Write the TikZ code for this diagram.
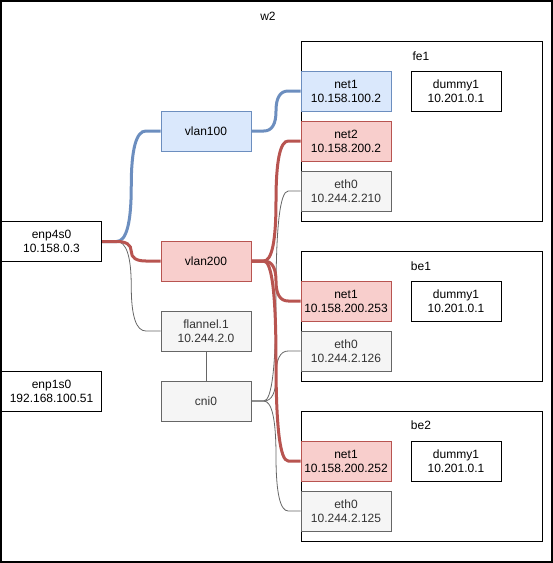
\documentclass[tikz,border=0pt]{standalone}
\usepackage{fontspec}
\setmainfont{Liberation Sans}
\usetikzlibrary{calc}
\definecolor{bluefill}{HTML}{DAE8FC}
\definecolor{bluedraw}{HTML}{6C8EBF}
\definecolor{redfill}{HTML}{F8CECC}
\definecolor{reddraw}{HTML}{B85450}
\definecolor{grayfill}{HTML}{F5F5F5}
\definecolor{graydraw}{HTML}{666666}
\definecolor{graytext}{HTML}{333333}
\tikzset{
  box/.style={draw=black, line width=1pt, minimum width=90pt, minimum height=40pt, inner sep=0pt, align=center, font=\fontsize{12}{14}\selectfont},
  wide/.style={minimum width=100pt},
  bluebox/.style={box, fill=bluefill, draw=bluedraw},
  redbox/.style={box, fill=redfill, draw=reddraw},
  graybox/.style={box, fill=grayfill, draw=graydraw, text=graytext},
  container/.style={draw=black, line width=1pt, inner sep=0pt, minimum width=241pt},
  lbl/.style={inner sep=0pt, font=\fontsize{12}{14}\selectfont},
  dio/.style={to path={let \p1=(\tikztostart), \p2=(\tikztotarget),
     \n1={(\x1+\x2)/2}, \n2={(\y1+\y2)/2}, \n3={(\x2-\x1)/4}, \n4={(\x2-\x1)/6}, \n5={(\y2-\y1)/3} in
     -- ({\x1+\n3},\y1)
     .. controls ({\x1+\n3+\n4},\y1) and (\n1,{\n2-\n5}) .. (\n1,\n2)
     .. controls (\n1,{\n2+\n5}) and ({\x2-\n3-\n4},\y2) .. ({\x2-\n3},\y2)
     -- (\p2)}},
  blueline/.style={dio, draw=bluedraw, line width=3pt},
  redline/.style={dio, draw=reddraw, line width=3pt},
  grayline/.style={dio, draw=graydraw, line width=0.8pt},
}
\begin{document}
\begin{tikzpicture}[x=1pt,y=-1pt]
\useasboundingbox (0,0) rectangle (553,563);
\fill[white] (0,0) rectangle (553,563);
\draw[line width=2pt] (1,1) rectangle (552,562);
\node[lbl] (w2) at (268,16) {w2};

% containers
\node[container, minimum height=180pt] (fe1) at (421.5,131) {};
\node[lbl] (fe1l) at (421,56) {fe1};
\node[container, minimum height=130pt] (be1) at (421.5,316) {};
\node[lbl] (be1l) at (421,266) {be1};
\node[container, minimum height=130pt] (be2) at (421.5,476) {};
\node[lbl] (be2l) at (421,425) {be2};

% fe1 contents
\node[bluebox] (fnet1) at (346,91) {net1\\10.158.100.2};
\node[redbox] (fnet2) at (346,141) {net2\\10.158.200.2};
\node[graybox] (feth0) at (346,191) {eth0\\10.244.2.210};
\node[box] (fdummy) at (456,91) {dummy1\\10.201.0.1};

% be1 contents
\node[redbox] (b1net1) at (346,301) {net1\\10.158.200.253};
\node[graybox] (b1eth0) at (346,351) {eth0\\10.244.2.126};
\node[box] (b1dummy) at (456,301) {dummy1\\10.201.0.1};

% be2 contents
\node[redbox] (b2net1) at (346,461) {net1\\10.158.200.252};
\node[graybox] (b2eth0) at (346,511) {eth0\\10.244.2.125};
\node[box] (b2dummy) at (456,461) {dummy1\\10.201.0.1};

% host interfaces
\node[bluebox] (vlan100) at (206,131) {vlan100};
\node[redbox] (vlan200) at (206,261) {vlan200};
\node[graybox] (flannel) at (206,331) {flannel.1\\10.244.2.0};
\node[graybox] (cni0) at (206,401) {cni0};
\node[box, wide] (enp4s0) at (51.5,241.5) {enp4s0\\10.158.0.3};
\node[box, wide] (enp1s0) at (51.5,391.5) {enp1s0\\192.168.100.51};

% connectors
\draw[grayline] (enp4s0.east) to (flannel.west);
\draw[blueline] (enp4s0.east) to (vlan100.west);
\draw[redline] (enp4s0.east) to (vlan200.west);
\draw[blueline] (vlan100.east) to (fnet1.west);
\draw[graydraw, line width=0.8pt] (flannel.south) -- (cni0.north);
\draw[grayline] (cni0.east) to (feth0.west);
\draw[grayline] (cni0.east) to (b1eth0.west);
\draw[grayline] (cni0.east) to (b2eth0.west);
\draw[redline] (vlan200.east) to (fnet2.west);
\draw[redline] (vlan200.east) to (b1net1.west);
\draw[redline] (vlan200.east) to (b2net1.west);
\end{tikzpicture}
\end{document}
